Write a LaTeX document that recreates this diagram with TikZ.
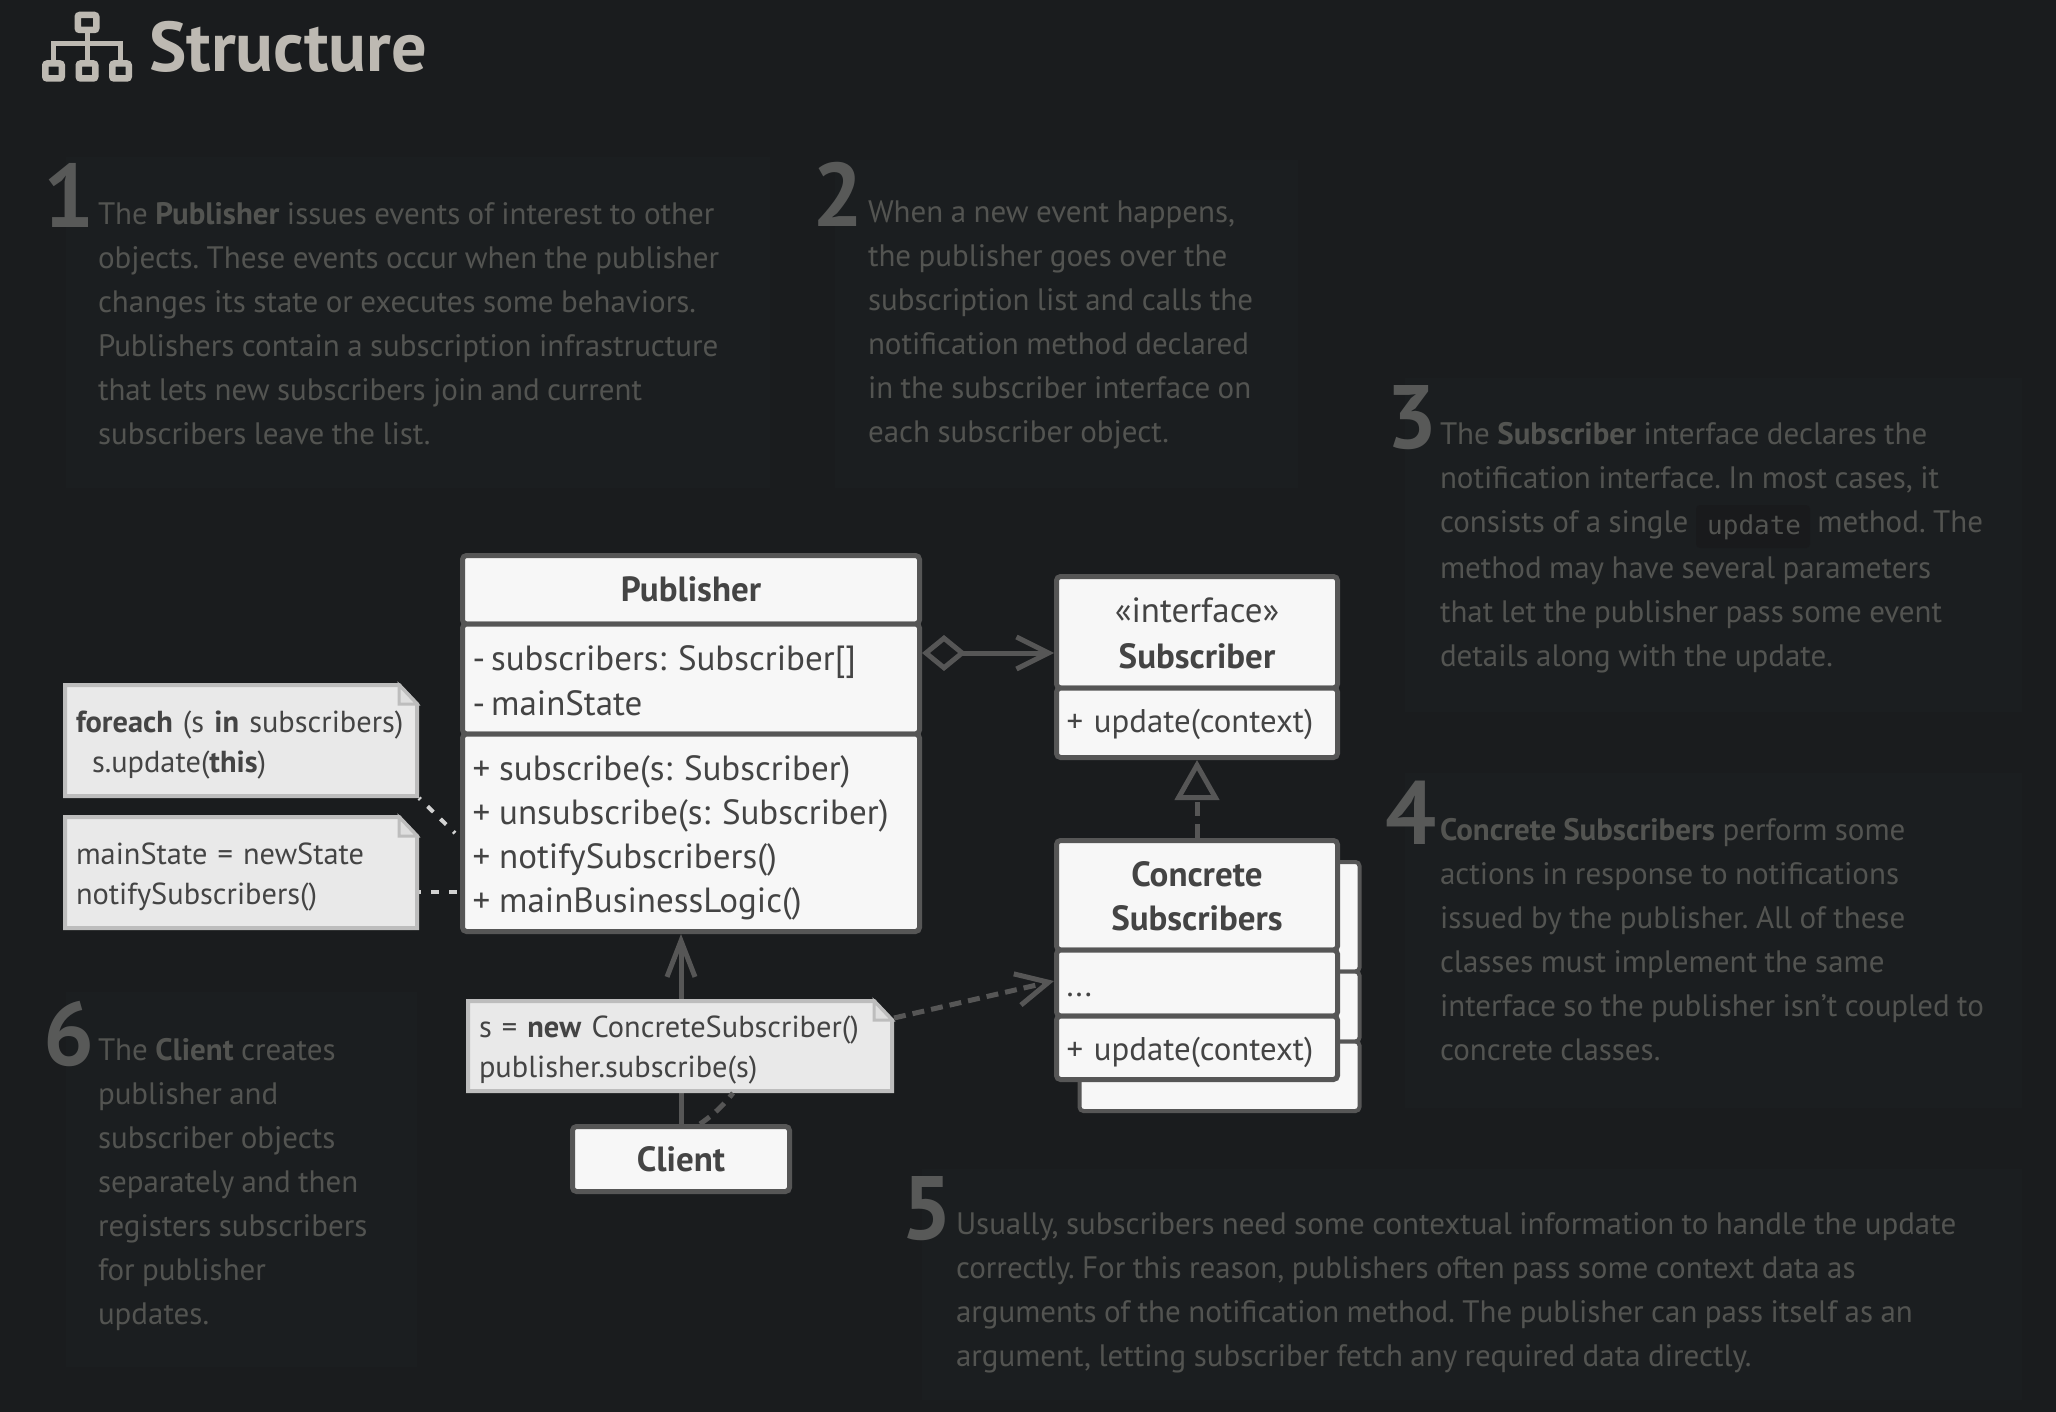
\documentclass[tikz,border=0pt]{standalone}
\usepackage{fontspec}
\setmainfont[WordSpace=0.9]{PT Sans}
\newfontfamily\codefont{DejaVu Sans Mono}
\usepackage{xcolor}
\usetikzlibrary{arrows.meta, positioning, calc, backgrounds}

\definecolor{pagebg}{HTML}{1A1C1E}
\definecolor{panelbg}{HTML}{1B1E20}
\definecolor{bodytext}{HTML}{535451}
\definecolor{stepgray}{HTML}{585958}
\definecolor{titlegray}{HTML}{BDB9B2}
\definecolor{umlline}{HTML}{565656}
\definecolor{umlfill}{HTML}{F7F7F7}
\definecolor{umltext}{HTML}{444444}
\definecolor{notefill}{HTML}{E9E9E9}
\definecolor{noteedge}{HTML}{BDBDBD}
\definecolor{foldfill}{HTML}{DEDEDE}
\definecolor{tracegray}{HTML}{D2D2D2}
\definecolor{codebg}{HTML}{191A1C}

\newcommand{\topgap}[1]{\rule{0pt}{#1}}
\newcommand{\notefold}[1]{
  \draw[notepath] ($(#1.north west)+(2,2)$) -- ($(#1.north east)+(-20,2)$) -- ($(#1.north east)+(-2,21)$) -- ($(#1.south east)+(-2,-2)$) -- ($(#1.south west)+(2,-2)$) -- cycle;
  \draw[foldpath] ($(#1.north east)+(-20,2)$) -- ($(#1.north east)+(-20,21)$) -- ($(#1.north east)+(-2,21)$) -- cycle;
}

\begin{document}
\frenchspacing
\begin{tikzpicture}[
  x=1pt, y=-1pt,
  classbox/.style={draw=umlline, fill=umlfill, line width=5pt, rounded corners=4pt, text=umltext, outer sep=2.5pt, inner ysep=0pt, inner xsep=10pt, font=\fontsize{35}{45}\selectfont, align=center},
  member/.style={classbox, align=left, text width=#1},
  smallmember/.style={member=#1, font=\fontsize{32.8}{44}\selectfont},
  stackbox/.style={draw=umlline, fill=umlfill, line width=4pt, rounded corners=4pt, outer sep=2pt, minimum width=280pt},
  para/.style={anchor=north west, inner sep=0pt, outer sep=0pt, align=left, text=bodytext, font=\fontsize{31}{44}\selectfont},
  stepnum/.style={anchor=base west, inner sep=0pt, text=stepgray, font=\fontsize{90}{90}\selectfont\bfseries},
  notebox/.style={anchor=north west, inner xsep=13pt, inner ysep=0pt, outer sep=0pt, align=left, text width=#1, text=umltext, font=\fontsize{30.4}{40}\selectfont},
  notepath/.style={draw=noteedge, fill=notefill, line width=4pt},
  foldpath/.style={draw=noteedge, fill=foldfill, line width=3pt},
  iconbox/.style={draw=titlegray, line width=6.5pt, rounded corners=2pt, inner sep=0pt, minimum width=#1, minimum height=15pt},
  assoc/.style={draw=umlline, line width=5pt},
  trace/.style={draw=tracegray, line width=4pt, dash pattern=on 8pt off 10pt, dash phase=6pt},
  opentip/.style={-{Straight Barb[length=32pt, width=32pt]}}
]
  \useasboundingbox (0,0) rectangle (2056,1412);

  % title
  \node[iconbox=18.5pt] (iconroot) at (87,22.5) {};
  \node[iconbox=16.5pt] (iconleft) at (53.5,71) {};
  \node[iconbox=16.5pt] (iconmid) at (87,71) {};
  \node[iconbox=16.5pt] (iconright) at (120.5,71) {};
  \node[anchor=base west, inner sep=0pt, text=titlegray, font=\fontsize{70.4}{70}\selectfont\bfseries] (title) at (149,72) {Structure};

  % publisher
  \node[classbox, anchor=north, minimum width=457pt, minimum height=68.5pt, font=\fontsize{35}{45}\selectfont\bfseries] (pubhead) at (691,553) {Publisher};
  \node[member=437pt, minimum height=110pt, below=-5pt of pubhead] (pubattrs) {\topgap{28pt}-\hspace{6pt}subscribers: Subscriber[]\\-\hspace{6pt}mainState};
  \node[member=437pt, minimum height=197.5pt, below=-5pt of pubattrs, font=\fontsize{35}{44}\selectfont] (pubops) {\topgap{36pt}+\hspace{9pt}subscribe(s: Subscriber)\\+\hspace{9pt}unsubscribe(s: Subscriber)\\+\hspace{9pt}notifySubscribers()\\+\hspace{9pt}mainBusinessLogic()};

  % subscriber interface
  \node[classbox, anchor=north, minimum width=281pt, minimum height=111.5pt, font=\fontsize{35}{46}\selectfont] (subhead) at (1197,574) {\topgap{27pt}«interface»\\\textbf{Subscriber}};
  \node[smallmember=261pt, minimum height=69.5pt, below=-5pt of subhead] (subops) {\topgap{27pt}+ update(context)};

  % concrete subscribers, the copy behind first
  \node[stackbox, anchor=north, minimum height=109.5pt] (backhead) at (1219.5,860) {};
  \node[stackbox, minimum height=70pt, below=-4pt of backhead] (backattrs) {};
  \node[stackbox, minimum height=69.5pt, below=-4pt of backattrs] (backops) {};
  \node[classbox, anchor=north, minimum width=281pt, minimum height=109.5pt, font=\fontsize{35}{44}\selectfont] (conhead) at (1197,838) {\topgap{26pt}\textbf{Concrete}\\\textbf{Subscribers}};
  \node[smallmember=261pt, minimum height=66pt, below=-5pt of conhead] (conattrs) {\topgap{28pt}...};
  \node[smallmember=261pt, minimum height=63.5pt, below=-5pt of conattrs] (conops) {\topgap{32pt}+ update(context)};

  \node[classbox, minimum width=217pt, minimum height=65pt, font=\fontsize{35}{44}\selectfont\bfseries] (client) at (681,1159) {Client};

  % notes
  \node[notebox=330pt, minimum height=115pt] (noteloop) at (63,683) {\topgap{31pt}\mbox{\textbf{foreach} (s \textbf{in} subscribers)}\\\hspace*{16pt}s.update(\textbf{this})};
  \node[notebox=330pt, minimum height=115pt] (notestate) at (63,815) {\topgap{31pt}mainState = newState\\notifySubscribers()};
  \node[notebox=402pt, minimum height=94pt] (noteclient) at (466,999) {\topgap{29pt}s = \textbf{new} ConcreteSubscriber()\\publisher.subscribe(s)};

  % text blocks
  \foreach \num/\xnum/\ynum in {1/43/228, 2/812/227, 3/1386/448, 4/1385/844, 5/901/1239, 6/43/1065}
    \node[stepnum] (step\num) at (\xnum,\ynum) {\num};

  \node[para] (textone) at (98,202) {The \textbf{Publisher} issues events of interest to other\\objects. These events occur when the publisher\\changes its state or executes some behaviors.\\Publishers contain a subscription infrastructure\\that lets new subscribers join and current\\subscribers leave the list.};
  \node[para] (texttwo) at (868,201) {When a new event happens,\\the publisher goes over the\\subscription list and calls the\\notification method declared\\in the subscriber interface on\\each subscriber object.};
  \node[para] (textthree) at (1440,422) {The \textbf{Subscriber} interface declares the\\notification interface. In most cases, it\\consists of a single \hspace{114pt} method. The\\[2pt]method may have several parameters\\that let the publisher pass some event\\details along with the update.};
  \node[anchor=base west, inner sep=0pt, text=bodytext, font=\fontsize{26}{30}\selectfont\codefont] (updatecode) at (1707,534) {update};
  \node[para] (textfour) at (1440,818) {\textbf{Concrete Subscribers} perform some\\actions in response to notifications\\issued by the publisher. All of these\\classes must implement the same\\interface so the publisher isn’t coupled to\\concrete classes.};
  \node[para] (textfive) at (956,1213) {Usually, subscribers need some contextual information to handle the update\\correctly. For this reason, publishers often pass some context data as\\arguments of the notification method. The publisher can pass itself as an\\argument, letting subscriber fetch any required data directly.};
  \node[para] (textsix) at (98,1038) {The \textbf{Client} creates\\publisher and\\subscriber objects\\separately and then\\registers subscribers\\for publisher\\updates.};

  \begin{scope}[on background layer]
    \fill[pagebg] (0,0) rectangle (2056,1412);
    \foreach \xa/\ya/\xb/\yb in {66/157/770/488, 835/160/1298/488, 1405/378/2022/712, 1405/773/2022/1108, 922/1169/2022/1400, 66/992/417/1367}
      \fill[panelbg] (\xa,\ya) rectangle (\xb,\yb);
    \fill[codebg, rounded corners=4pt] (1696,505) rectangle (1810,548);

    \draw[titlegray, line width=5pt] (iconroot) -- (iconmid);
    \draw[titlegray, line width=5pt] (iconleft.north) -- ++(0,-17) -- ($(iconright.north)+(0,-17)$) -- (iconright.north);

    % connectors
    \draw[assoc, {Diamond[open, length=44pt, width=36pt]}-{Straight Barb[length=32pt, width=32pt]}] ($(pubattrs.east)+(0,-26)$) -- (subhead.west |- 0,653);
    \draw[assoc, dash pattern=on 14pt off 8pt, -{Triangle[open, length=40pt, width=44pt]}] (conhead.north) -- (subops.south);
    \draw[assoc, -{Straight Barb[length=36pt, width=28pt]}] (client.north) -- (client.north |- pubops.south);
    \draw[trace, shorten >=7pt] (noteloop.south east) -- (pubops.west |- 0,838);
    \draw[trace, shorten >=3pt] (notestate.east |- 0,892) -- (pubops.west |- 0,892);

    \notefold{noteloop}
    \notefold{notestate}
    \notefold{noteclient}

    \draw[assoc, dash pattern=on 12pt off 8pt] ($(client.north)+(19,0)$) to[bend right=8] ($(noteclient.south)+(53,0)$);
    \draw[assoc, dash pattern=on 12pt off 7pt, opentip] (noteclient.north east |- 0,1018) -- (conattrs.west |- 0,981);
  \end{scope}
\end{tikzpicture}
\end{document}
